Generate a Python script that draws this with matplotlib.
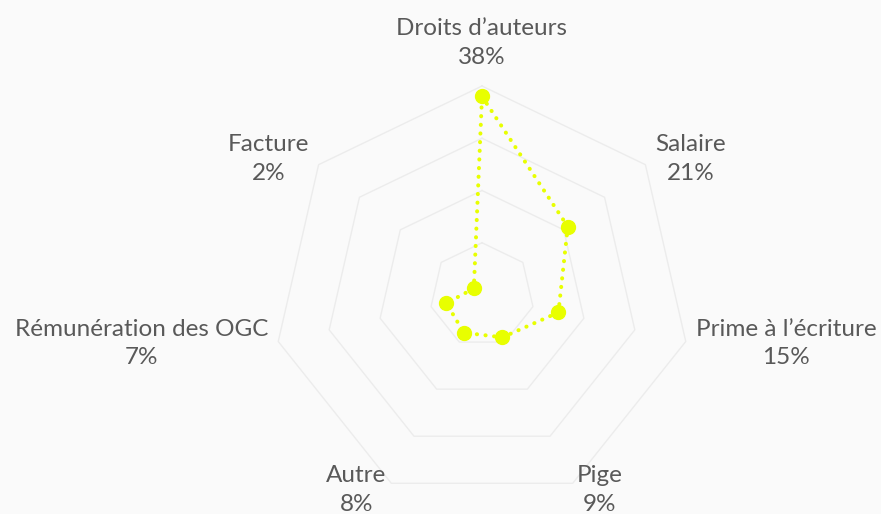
import numpy as np
import matplotlib
matplotlib.use('Agg')
import matplotlib.pyplot as plt

# répartition des revenus (ordre horaire depuis le haut)
categories = ['Droits d’auteurs', 'Salaire', 'Prime à l’écriture', 'Pige',
              'Autre', 'Rémunération des OGC', 'Facture']
values = [38, 21, 15, 9, 8, 7, 2]
rings = [10, 20, 30, 40]

plt.rcParams['font.family'] = ['Lato', 'DejaVu Sans']

n = len(categories)
theta = np.arange(n) * 2 * np.pi / n

fig = plt.figure(figsize=(8.81, 5.14), dpi=100)
fig.patch.set_facecolor('#fafafa')
# centre ~ (482, 295) px, rayon ~ 209 px
ax = fig.add_axes([273 / 881, 10 / 514, 418 / 881, 418 / 514], projection='polar')
ax.set_theta_zero_location('N')
ax.set_theta_direction(-1)
ax.set_ylim(0, 40)
ax.axis('off')

th_closed = np.append(theta, theta[0])
for r in rings:
    ax.plot(th_closed, [r] * (n + 1), color='#ececec', lw=1.0, zorder=1, clip_on=False)

vals_closed = values + values[:1]
ax.plot(th_closed, vals_closed, color='#e8ff00', lw=2.9, linestyle=(0, (0.05, 2.1)),
        dash_capstyle='round', zorder=3, clip_on=False)
ax.plot(theta, values, 'o', color='#e8ff00', markersize=10, zorder=4, clip_on=False)

# décalages des étiquettes par rapport aux sommets (pixels)
offsets = [(0, 43, 'center'), (10, 6, 'left'), (10, -2, 'left'), (4, -7, 'left'),
           (-5, -7, 'right'), (-10, -2, 'right'), (-9, 6, 'right')]
for t, cat, v, (dx, dy, ha) in zip(theta, categories, values, offsets):
    ax.annotate(f'{cat}\n{v}%', xy=(t, 40), xytext=(dx, dy), textcoords='offset pixels',
                ha=ha, va='center', multialignment='center', fontsize=17.5,
                color='#595959', linespacing=1.45, annotation_clip=False)

fig.savefig('out.png', dpi=100, facecolor=fig.get_facecolor())
